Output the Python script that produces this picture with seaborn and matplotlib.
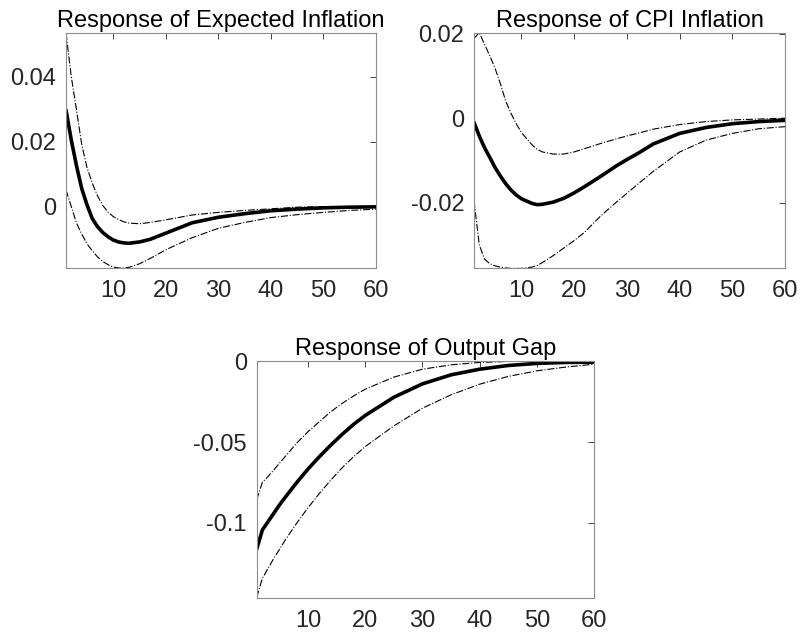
"""
Impulse responses (median + dash-dot bands) for expected inflation,
CPI inflation and the output gap, drawn MATLAB-style with seaborn.
"""

import matplotlib
matplotlib.use("Agg")
import matplotlib.pyplot as plt
import pandas as pd
import seaborn as sns

# --- Data (x = horizon, y = response) -------------------------------------
EXP_X     = [1, 2, 3, 4, 5, 6, 7, 8, 9, 10, 11, 12, 13, 15, 17, 20, 25, 30, 35, 40, 45, 50, 55, 60]
EXP_MID   = [0.0297, 0.0205, 0.0125, 0.0055, 0.0005, -0.0037, -0.0062, -0.0080, -0.0093,
             -0.0103, -0.0109, -0.0112, -0.0113, -0.0109, -0.0101, -0.0082, -0.0050, -0.0033,
             -0.0022, -0.0013, -0.0008, -0.0004, -0.0002, -0.0001]
EXP_UP    = [0.0534, 0.0400, 0.0297, 0.0190, 0.0120, 0.0072, 0.0033, 0.0003, -0.0017,
             -0.0031, -0.0040, -0.0047, -0.0051, -0.0053, -0.0049, -0.0041, -0.0026, -0.0018,
             -0.0012, -0.0007, -0.0002, 0.0000, 0.0000, 0.0000]
EXP_LO    = [0.0051, 0.0000, -0.0051, -0.0085, -0.0115, -0.0136, -0.0155, -0.0169, -0.0179,
             -0.0186, -0.0189, -0.0189, -0.0187, -0.0176, -0.0160, -0.0133, -0.0096, -0.0067,
             -0.0049, -0.0034, -0.0025, -0.0018, -0.0012, -0.0008]

CPI_X     = [1, 2, 3, 4, 5, 6, 7, 8, 9, 10, 12, 13, 14, 16, 18, 20, 22, 25, 28, 30, 32, 35,
             40, 45, 50, 55, 60]
CPI_MID   = [-0.0010, -0.0042, -0.0070, -0.0093, -0.0117, -0.0137, -0.0155, -0.0170, -0.0182,
             -0.0191, -0.0202, -0.0205, -0.0204, -0.0199, -0.0190, -0.0177, -0.0162, -0.0138,
             -0.0113, -0.0098, -0.0084, -0.0061, -0.0036, -0.0022, -0.0013, -0.0008, -0.0005]
CPI_UP    = [0.0189, 0.0203, 0.0175, 0.0148, 0.0118, 0.0082, 0.0041, 0.0012, -0.0013,
             -0.0034, -0.0063, -0.0074, -0.0080, -0.0085, -0.0085, -0.0080, -0.0072, -0.0060,
             -0.0049, -0.0042, -0.0036, -0.0026, -0.0015, -0.0008, -0.0004, -0.0002, 0.0000]
CPI_LO    = [-0.0195, -0.0300, -0.0334, -0.0345, -0.0350, -0.0353, -0.0355, -0.0356, -0.0356,
             -0.0356, -0.0353, -0.0349, -0.0342, -0.0326, -0.0308, -0.0290, -0.0270, -0.0232,
             -0.0199, -0.0178, -0.0157, -0.0126, -0.0080, -0.0052, -0.0036, -0.0025, -0.0020]

GAP_X     = [1, 2, 3, 4, 5, 6, 8, 10, 12, 14, 16, 18, 20, 25, 30, 35, 40, 45, 50, 55, 60]
GAP_MID   = [-0.1166, -0.1046, -0.0994, -0.0942, -0.0890, -0.0843, -0.0752, -0.0667, -0.0590,
             -0.0518, -0.0451, -0.0389, -0.0335, -0.0222, -0.0139, -0.0083, -0.0048, -0.0025,
             -0.0012, -0.0006, -0.0004]
GAP_UP    = [-0.0859, -0.0750, -0.0714, -0.0673, -0.0631, -0.0590, -0.0507, -0.0435, -0.0373,
             -0.0311, -0.0259, -0.0213, -0.0172, -0.0097, -0.0048, -0.0021, -0.0006, 0.0000,
             0.0001, 0.0001, 0.0001]
GAP_LO    = [-0.1466, -0.1346, -0.1284, -0.1222, -0.1166, -0.1108, -0.1004, -0.0907, -0.0818,
             -0.0735, -0.0658, -0.0590, -0.0528, -0.0400, -0.0290, -0.0207, -0.0141, -0.0093,
             -0.0058, -0.0035, -0.0017]

X_TICKS = [10, 20, 30, 40, 50, 60]

GRAY = "#262626"


def draw_panel(fig, rect, title, x, mid, up, lo, ylim, yticks, ylabels):
    ax = fig.add_axes(rect)
    df = pd.DataFrame({"h": x, "mid": mid, "up": up, "lo": lo})
    for col in ("up", "lo"):
        sns.lineplot(data=df, x="h", y=col, ax=ax, color="black",
                     linewidth=0.8, linestyle="-.", estimator=None)
    sns.lineplot(data=df, x="h", y="mid", ax=ax, color="black",
                 linewidth=2.6, estimator=None)

    ax.set_xlim(1, 60)
    ax.set_ylim(*ylim)
    ax.set_xticks(X_TICKS)
    ax.set_xticklabels([str(t) for t in X_TICKS])
    ax.set_yticks(yticks)
    ax.set_yticklabels(ylabels)
    ax.set_xlabel("")
    ax.set_ylabel("")
    ax.set_title(title, fontsize=17, color="black", pad=4)

    ax.tick_params(direction="in", top=True, right=True, length=4,
                   width=0.6, colors=GRAY, labelsize=17, labelcolor=GRAY)
    ax.tick_params(axis="x", pad=9)
    ax.tick_params(axis="y", pad=7)
    for s in ax.spines.values():
        s.set_color("#8c8c8c")
        s.set_linewidth(0.8)
    ax.grid(False)
    return ax


def main() -> None:
    sns.set_style("white")
    plt.rcParams["font.family"] = ["Liberation Sans", "DejaVu Sans"]
    plt.rcParams["axes.unicode_minus"] = False

    fig = plt.figure(figsize=(8.02, 6.38), dpi=100)

    draw_panel(fig, [0.0823, 0.580, 0.3865, 0.3683],
               "Response of Expected Inflation", EXP_X, EXP_MID, EXP_UP, EXP_LO,
               (-0.0189, 0.0534), [0, 0.02, 0.04], ["0", "0.02", "0.04"])
    draw_panel(fig, [0.591, 0.580, 0.388, 0.3683],
               "Response of CPI Inflation", CPI_X, CPI_MID, CPI_UP, CPI_LO,
               (-0.0355, 0.0202), [-0.02, 0, 0.02], ["-0.02", "0", "0.02"])
    draw_panel(fig, [0.320, 0.0632, 0.4206, 0.3715],
               "Response of Output Gap", GAP_X, GAP_MID, GAP_UP, GAP_LO,
               (-0.1466, 0.0005), [-0.1, -0.05, 0], ["-0.1", "-0.05", "0"])

    fig.savefig("out.png", dpi=100, facecolor="white")
    plt.close(fig)


if __name__ == "__main__":
    main()
